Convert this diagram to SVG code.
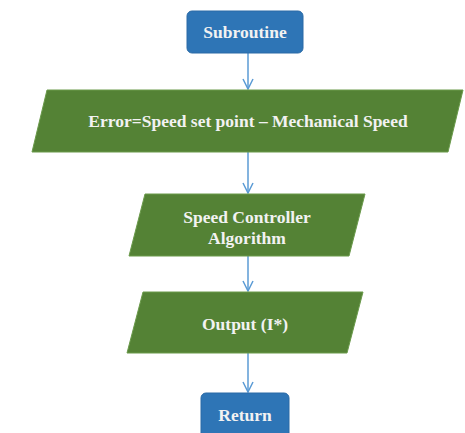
<svg xmlns="http://www.w3.org/2000/svg" width="465" height="433" viewBox="0 0 465 433">
<defs>
<marker id="arr" viewBox="0 0 12 12" refX="11" refY="6" markerWidth="12" markerHeight="12" markerUnits="userSpaceOnUse" orient="auto">
<path d="M1,1 L11,6 L1,11" fill="none" stroke="#5B9BD5" stroke-width="1.5"/>
</marker>
<style>
.term{fill:#2E75B6;stroke:#2A6AA6;stroke-width:1}
.io{fill:#548235;stroke:#6A9A4A;stroke-width:1}
.t{font-family:"Liberation Serif","Times New Roman",serif;font-weight:bold;font-size:17.5px;fill:#F2F2F2;text-anchor:middle}
.c{stroke:#5B9BD5;stroke-width:1.5;fill:none}
</style>
</defs>
<rect width="465" height="433" fill="#FFFFFF"/>
<g id="connectors">
<line class="c" x1="248" y1="53" x2="248" y2="89" marker-end="url(#arr)"/>
<line class="c" x1="248" y1="152" x2="248" y2="193" marker-end="url(#arr)"/>
<line class="c" x1="248" y1="256" x2="248" y2="291" marker-end="url(#arr)"/>
<line class="c" x1="248" y1="353" x2="248" y2="392" marker-end="url(#arr)"/>
</g>
<g id="subroutine">
<rect class="term" x="187" y="11" width="116" height="42" rx="5"/>
<text class="t" x="245" y="38">Subroutine</text>
</g>
<g id="error">
<polygon class="io" points="47,90 463,90 448,152 32,152"/>
<text class="t" x="248" y="127">Error=Speed set point – Mechanical Speed</text>
</g>
<g id="controller">
<polygon class="io" points="145,194 365,194 349,256 129,256"/>
<text class="t" x="247" y="223">Speed Controller</text>
<text class="t" x="247" y="244">Algorithm</text>
</g>
<g id="output">
<polygon class="io" points="143,292 363,292 347,353 127,353"/>
<text class="t" x="245" y="330">Output (I*)</text>
</g>
<g id="return">
<rect class="term" x="201" y="393" width="88" height="46" rx="5"/>
<text class="t" x="245" y="421">Return</text>
</g>
</svg>
